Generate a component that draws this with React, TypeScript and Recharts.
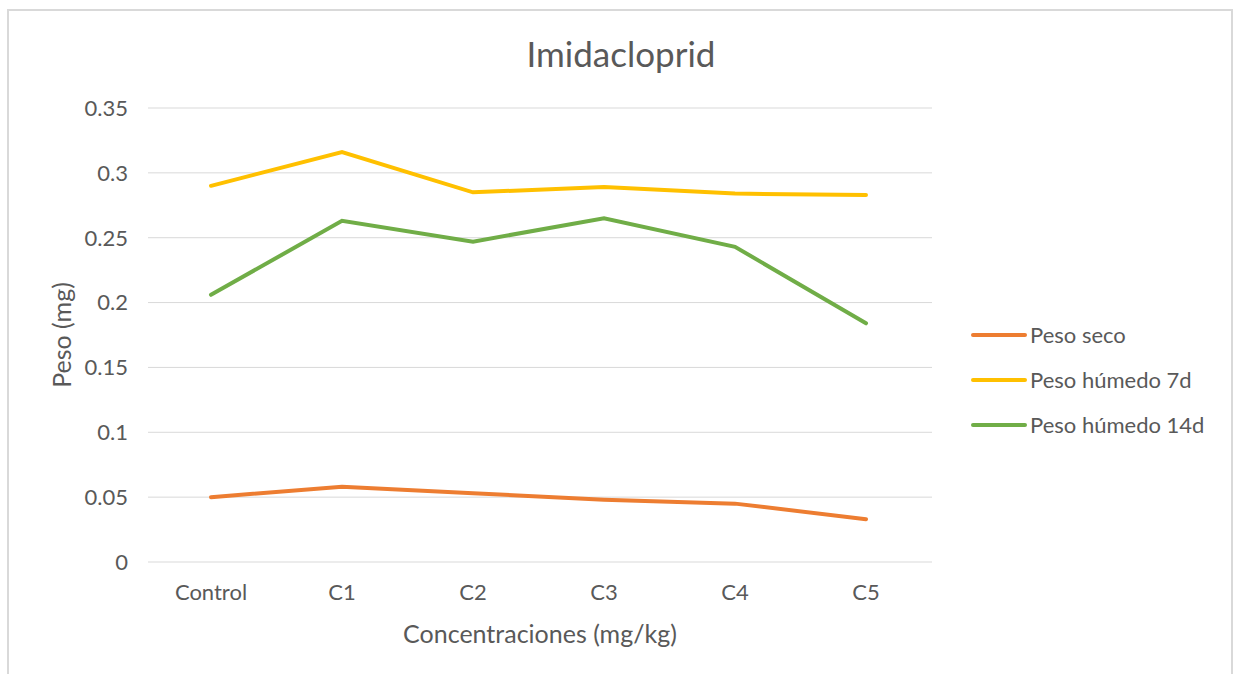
import * as React from 'react';
import { LineChart, Line, XAxis, YAxis, CartesianGrid } from 'recharts';

const categories = ['Control', 'C1', 'C2', 'C3', 'C4', 'C5'];
const pesoSeco = [0.050, 0.058, 0.053, 0.048, 0.045, 0.033];
const pesoHumedo7d = [0.290, 0.316, 0.285, 0.289, 0.284, 0.283];
const pesoHumedo14d = [0.206, 0.263, 0.247, 0.265, 0.243, 0.184];
const yTicks = [0, 0.05, 0.1, 0.15, 0.2, 0.25, 0.3, 0.35];

const series = [
  { key: 'seco', name: 'Peso seco', color: '#ED7D31' },
  { key: 'h7', name: 'Peso húmedo 7d', color: '#FFC000' },
  { key: 'h14', name: 'Peso húmedo 14d', color: '#70AD47' },
];

const data = categories.map((c, i) => ({
  cat: c,
  seco: pesoSeco[i],
  h7: pesoHumedo7d[i],
  h14: pesoHumedo14d[i],
}));

const FONT = 'Lato, "Open Sans", sans-serif';
const TEXT = '#595959';

// leyenda a la derecha, fuera del área del gráfico
function LegendBox() {
  return (
    <div style={{ position: 'absolute', left: 970, top: 312, fontFamily: FONT, fontSize: 22, color: TEXT }}>
      {series.map((s) => (
        <div key={s.key} style={{ display: 'flex', alignItems: 'center', height: 45 }}>
          <svg width={58} height={8}>
            <line x1={3} y1={4} x2={55} y2={4} stroke={s.color} strokeWidth={4} strokeLinecap="round" />
          </svg>
          <span style={{ marginLeft: 2 }}>{s.name}</span>
        </div>
      ))}
    </div>
  );
}

export default function App() {
  return (
    <div style={{ position: 'absolute', left: 0, top: 0, width: 1237, height: 674, background: '#fff', overflow: 'hidden' }}>
      <div style={{ position: 'absolute', left: 7, top: 9, width: 1226, height: 700, border: '2px solid #d9d9d9', boxSizing: 'border-box' }} />
      <div style={{ position: 'absolute', left: 0, top: 31, width: 1242, textAlign: 'center', fontFamily: FONT, fontSize: 35, lineHeight: '44px', color: TEXT }}>
        Imidacloprid
      </div>
      <div style={{ position: 'absolute', left: 0, top: 0 }}>
        <LineChart width={1237} height={674} data={data} margin={{ top: 108, right: 305, bottom: 27, left: 40 }}>
          <CartesianGrid vertical={false} stroke="#d9d9d9" strokeWidth={1} />
          <XAxis
            dataKey="cat"
            axisLine={false}
            tickLine={false}
            height={85}
            padding={{ left: 63, right: 66 }}
            tick={{ fill: TEXT, fontSize: 22, fontFamily: FONT }}
            tickMargin={16}
            label={{ value: 'Concentraciones (mg/kg)', position: 'insideBottom', offset: 4, fill: TEXT, fontSize: 25, fontFamily: FONT }}
          />
          <YAxis
            domain={[0, 0.35]}
            ticks={yTicks}
            axisLine={false}
            tickLine={false}
            width={108}
            tickMargin={14}
            tickFormatter={(v: number) => String(Number(v.toFixed(2)))}
            tick={{ fill: TEXT, fontSize: 22, fontFamily: FONT }}
            label={{ value: 'Peso (mg)', angle: -90, position: 'insideLeft', offset: 22, fill: TEXT, fontSize: 25, fontFamily: FONT, style: { textAnchor: 'middle' } }}
          />
          {series.map((s) => (
            <Line
              key={s.key}
              type="linear"
              dataKey={s.key}
              name={s.name}
              stroke={s.color}
              strokeWidth={4}
              strokeLinecap="round"
              dot={false}
              activeDot={false}
              isAnimationActive={false}
            />
          ))}
        </LineChart>
      </div>
      <LegendBox />
    </div>
  );
}
